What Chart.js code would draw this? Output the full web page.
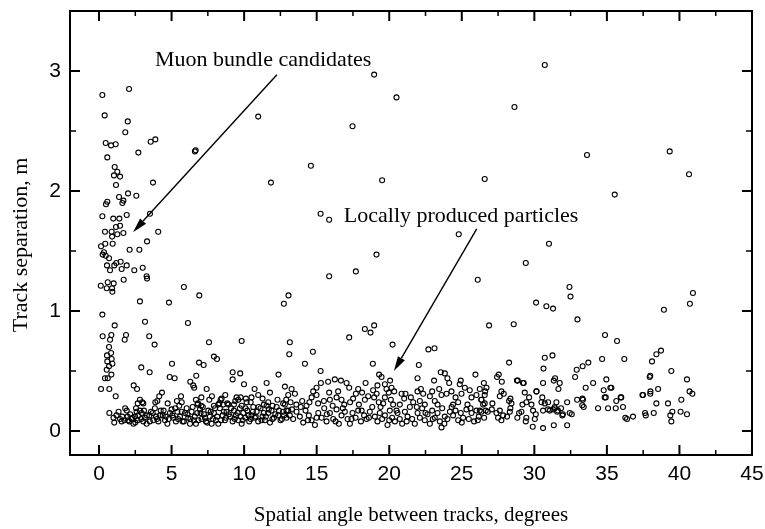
<!DOCTYPE html>
<html>
<head>
<meta charset="utf-8">
<script src="https://cdn.jsdelivr.net/npm/chart.js@4"></script>
<style>
  body { margin: 0; background: #fff; }
</style>
</head>
<body>
<canvas id="trackChart" width="765" height="529"></canvas>
<script>
// axis ticks
const xTicks = [0, 5, 10, 15, 20, 25, 30, 35, 40, 45];
const xMinorTicks = [2.5, 7.5, 12.5, 17.5, 22.5, 27.5, 32.5, 37.5, 42.5];
const yTicks = [0, 1, 2, 3];
const yMinorTicks = [0.5, 1.5, 2.5];

// [spatial angle (deg), track separation (m)]
const narrowAngle = [
  [0.23,2.80],[2.07,2.85],[0.39,2.63],[1.98,2.58],[1.81,2.49],[0.46,2.40],[0.83,2.38],[1.15,2.39],
  [2.71,2.32],[3.56,2.41],[3.88,2.43],[6.61,2.33],[6.66,2.34],[0.57,2.28],[1.08,2.20],[1.26,2.16],
  [1.03,2.13],[1.45,2.12],[3.72,2.07],[1.17,2.05],[1.38,1.95],[2.00,1.98],[2.57,1.96],[1.68,1.92],
  [1.61,1.90],[0.57,1.91],[0.48,1.89],[0.23,1.79],[1.91,1.80],[0.98,1.77],[1.40,1.77],[3.51,1.81],
  [1.17,1.70],[1.45,1.71],[0.41,1.66],[0.87,1.66],[1.26,1.64],[1.68,1.65],[0.90,1.62],[4.08,1.66],
  [3.31,1.58],[0.43,1.56],[0.94,1.56],[0.14,1.54],[2.11,1.51],[2.78,1.51],[0.34,1.49],[0.25,1.47],
  [0.46,1.46],[0.69,1.44],[1.49,1.41],[1.19,1.40],[1.91,1.38],[0.55,1.38],[1.05,1.38],[0.76,1.34],
  [1.56,1.35],[3.01,1.36],[2.43,1.34],[3.28,1.29],[3.31,1.27],[1.70,1.26],[0.12,1.21],[0.60,1.24],
  [1.01,1.23],[0.53,1.19],[0.90,1.19],[0.92,1.16],[5.85,1.20],[6.91,1.13],[2.82,1.08],[4.82,1.07],
  [0.23,0.97],[3.17,0.91],[6.13,0.90],[1.08,0.88],[0.25,0.79],[0.85,0.80],[1.86,0.80],[3.46,0.79],
  [0.76,0.76],[1.77,0.76],[3.83,0.72],[0.69,0.70],[0.83,0.65],[0.55,0.63],[0.87,0.60],
  [0.57,0.58],[0.92,0.56],[0.69,0.54],[0.53,0.51],[0.85,0.47],[0.41,0.44],[0.60,0.44],[0.14,0.35],
  [0.71,0.35],[1.15,0.29],[0.71,0.15],[1.00,0.11],[1.05,0.07]
];

const scattered = [
  [10.97,2.62],[18.96,2.97],[20.50,2.78],[17.47,2.54],[14.60,2.21],[19.51,2.09],[26.58,2.10],[30.72,3.05],
  [28.63,2.70],[33.63,2.30],[39.33,2.33],[40.66,2.14],[11.85,2.07],[15.27,1.81],[15.86,1.76],[24.79,1.64],
  [19.12,1.47],[15.86,1.29],[17.70,1.33],[26.10,1.26],[13.06,1.13],[12.74,1.06],[26.88,0.88],[13.15,0.74],
  [13.11,0.64],[17.24,0.78],[18.32,0.85],[18.71,0.82],[18.96,0.88],[20.23,0.72],[22.70,0.68],[23.12,0.69],
  [35.54,1.97],[31.01,1.56],[29.41,1.40],[32.42,1.20],[32.49,1.12],[30.12,1.07],[30.83,1.04],[31.29,1.02],
  [40.93,1.15],[40.72,1.06],[38.93,1.01],[28.58,0.89],[32.97,0.93],[34.87,0.80],[35.70,0.75],[38.73,0.67],
  [38.41,0.64],[38.11,0.58],[28.26,0.57],[30.72,0.61],[31.25,0.63],[30.63,0.52],[34.67,0.60],[36.20,0.60],
  [33.72,0.57],[33.33,0.54],[32.92,0.51],[39.44,0.50],[14.74,0.66],[14.19,0.56],[15.27,0.50],[18.87,0.56],
  [22.04,0.55],[19.30,0.47],[19.47,0.45],[2.91,0.53],[3.49,0.49],[5.03,0.56],[6.89,0.57],[7.21,0.55],
  [7.92,0.62],[8.13,0.60],[9.21,0.49],[9.73,0.48],[9.21,0.43],[4.87,0.45],[5.21,0.44],[6.70,0.46],
  [12.37,0.47],[23.55,0.49],[23.83,0.48],[25.94,0.47],[27.55,0.47],[27.43,0.45],[32.81,0.45],[37.95,0.45],
  [31.43,0.44],[7.58,0.74],[9.83,0.75]
];

const bandNear = [
  [6.29,0.41],[6.49,0.38],[6.56,0.36],[2.39,0.38],[2.62,0.35],[4.34,0.32],[4.15,0.29],[3.88,0.24],
  [4.02,0.25],[2.82,0.26],[2.98,0.24],[2.67,0.23],[2.55,0.19],[5.65,0.29],[5.37,0.25],[5.70,0.24],
  [7.42,0.35],[7.05,0.28],[6.82,0.23],[7.05,0.21],[7.78,0.29],[8.29,0.23],[8.45,0.27],[8.70,0.30],
  [8.38,0.26],[9.48,0.28],[9.76,0.28],[10.12,0.27],[10.45,0.24],[10.72,0.35],[9.39,0.25],[9.99,0.39],
  [4.73,0.23],[5.53,0.21],[6.68,0.26],[6.78,0.22],[7.60,0.26],[7.92,0.21],[8.22,0.22],[8.56,0.22],
  [8.84,0.23],[9.60,0.26],[10.17,0.24],[10.51,0.28],[9.30,0.22],[9.83,0.21],[10.97,0.30],[11.27,0.27],
  [11.55,0.40],[11.78,0.32],[11.36,0.22],[11.66,0.24],[11.96,0.21],[12.30,0.26],[12.69,0.23],[3.05,0.23],
  [1.45,0.10],[1.56,0.08],[1.75,0.09],[1.91,0.17],[1.97,0.12],[2.09,0.08],[2.25,0.10],[2.37,0.06],
  [2.48,0.12],[2.59,0.16],[2.66,0.09],[2.82,0.17],[2.94,0.15],[3.05,0.08],[3.17,0.11],[3.28,0.06],
  [3.47,0.13],[3.58,0.16],[3.74,0.09],[3.93,0.12],[4.09,0.08],[4.25,0.17],[4.39,0.13],[4.55,0.09],
  [4.71,0.06],[4.89,0.15],[5.00,0.18],[5.12,0.11],[5.30,0.08],[5.40,0.16],[5.58,0.12],[5.76,0.08],
  [5.92,0.15],[6.04,0.19],[6.15,0.11],[6.27,0.06],[6.38,0.16],[6.54,0.09],[6.68,0.06],[6.77,0.15],
  [6.96,0.18],[7.07,0.10],[7.23,0.14],[7.37,0.08],[7.53,0.17],[7.64,0.12],[7.76,0.06],[7.92,0.15],
  [8.06,0.09],[8.22,0.06],[8.33,0.19],[8.52,0.13],[8.68,0.09],[8.79,0.16],[8.91,0.22],[9.02,0.12],
  [9.21,0.08],[9.30,0.17],[9.44,0.13],[9.60,0.09],[9.71,0.19],[9.83,0.06],[9.94,0.15],[10.08,0.11],
  [10.22,0.17],[10.35,0.08],[10.51,0.13],[10.63,0.20],[10.74,0.11],[10.86,0.16],[10.97,0.08],[11.13,0.19],
  [11.27,0.12],[11.43,0.09],[11.55,0.21],[11.66,0.15],[11.78,0.07],[11.89,0.17],[12.05,0.11],[12.24,0.20],
  [12.35,0.13],[12.51,0.09],[12.69,0.16],[12.81,0.22],[12.92,0.11],[13.04,0.17],
  [1.20,0.13],[1.35,0.16],[1.60,0.12],[1.80,0.19],[2.00,0.09],[2.15,0.14],[2.30,0.11],[2.50,0.07],
  [2.70,0.13],[2.90,0.10],[3.10,0.17],[3.30,0.13],[3.50,0.08],[3.70,0.15],[3.85,0.19],[4.00,0.10],
  [4.20,0.13],[4.45,0.17],[4.60,0.12],[4.80,0.10],[5.05,0.13],[5.25,0.19],[5.45,0.10],[5.70,0.16],
  [5.85,0.08],[6.10,0.14],[6.30,0.10],[6.45,0.20],[6.60,0.12],[6.85,0.09],[7.00,0.15],[7.15,0.20],
  [7.30,0.11],[7.45,0.07],[7.70,0.16],[7.85,0.10],[8.00,0.19],[8.15,0.12],[8.40,0.09],[8.60,0.16],
  [8.75,0.11],[8.95,0.14],[9.10,0.19],[9.35,0.10],[9.55,0.15],[9.75,0.12],[9.90,0.09],[10.10,0.19],
  [10.30,0.13],[10.45,0.10],[10.60,0.16],[10.80,0.12],[11.00,0.20],[11.20,0.09],[11.35,0.15],[11.50,0.12],
  [11.70,0.18],[11.95,0.10],[12.15,0.14],[12.40,0.17],[12.60,0.10],[12.75,0.13]
];

const bandMid = [
  [20.06,0.42],[18.37,0.40],[21.95,0.44],[23.09,0.42],[24.01,0.44],[24.13,0.40],[24.93,0.42],[24.86,0.39],
  [15.29,0.40],[15.79,0.41],[16.25,0.43],[16.67,0.42],[17.06,0.40],[17.24,0.36],[12.81,0.37],[13.27,0.35],
  [13.50,0.31],[13.04,0.30],[14.99,0.36],[14.76,0.33],[14.65,0.28],[14.99,0.30],[15.86,0.32],[16.48,0.33],
  [16.37,0.28],[15.91,0.26],[16.71,0.26],[17.86,0.35],[17.70,0.31],[18.13,0.32],[17.51,0.27],[18.32,0.26],
  [17.91,0.22],[18.55,0.29],[18.89,0.34],[19.19,0.38],[19.13,0.31],[18.96,0.28],[19.28,0.24],[19.70,0.39],
  [19.81,0.35],[19.97,0.32],[20.16,0.36],[20.34,0.33],[19.70,0.28],[20.11,0.26],[20.27,0.22],[19.58,0.23],
  [20.85,0.31],[21.12,0.31],[21.03,0.27],[20.73,0.22],[21.49,0.28],[21.65,0.24],[21.95,0.33],[22.18,0.35],
  [22.34,0.31],[22.11,0.25],[22.45,0.22],[22.80,0.29],[22.96,0.33],[23.14,0.25],[23.44,0.35],[23.60,0.30],
  [23.33,0.22],[23.95,0.31],[24.29,0.33],[24.57,0.28],[24.75,0.24],[24.98,0.31],[25.21,0.36],[25.55,0.34],
  [25.67,0.28],[26.01,0.30],[26.24,0.35],[26.35,0.26],[26.58,0.30],[25.39,0.22],[24.40,0.22],[23.60,0.03],
  [12.90,0.26],[13.20,0.24],[13.60,0.22],[14.00,0.25],[14.30,0.21],[14.50,0.24],[15.10,0.23],[15.50,0.25],
  [16.10,0.21],[16.90,0.22],[17.30,0.24],
  [12.92,0.17],[13.15,0.13],[13.38,0.10],[13.61,0.16],[13.84,0.12],[14.07,0.07],[14.23,0.17],[14.46,0.13],
  [14.65,0.09],[14.88,0.05],[15.11,0.15],[15.34,0.11],[15.52,0.19],[15.68,0.08],[15.91,0.15],[16.14,0.10],
  [16.37,0.18],[16.53,0.06],[16.71,0.13],[16.94,0.16],[17.13,0.10],[17.29,0.06],[17.47,0.15],[17.68,0.11],
  [17.86,0.17],[18.05,0.08],[18.27,0.13],[18.44,0.10],[18.66,0.16],[18.83,0.20],[19.01,0.12],[19.19,0.08],
  [19.35,0.15],[19.51,0.10],[19.70,0.13],[19.88,0.05],[20.04,0.17],[20.20,0.11],[20.39,0.08],[20.57,0.15],
  [20.73,0.10],[20.89,0.06],[21.08,0.16],[21.26,0.12],[21.42,0.20],[21.58,0.10],[21.76,0.06],[21.95,0.15],
  [22.11,0.11],[22.27,0.19],[22.45,0.09],[22.64,0.14],[22.80,0.06],[22.96,0.17],[23.14,0.11],[23.33,0.15],
  [23.49,0.08],[23.65,0.19],[23.83,0.12],[24.01,0.10],[24.18,0.16],[24.40,0.13],[24.57,0.17],[24.75,0.09],
  [24.93,0.15],[25.09,0.11],[25.32,0.18],[25.48,0.10],[25.67,0.15],[25.85,0.08],[26.01,0.17],[26.17,0.12],
  [26.35,0.16],[26.54,0.11],
  [13.30,0.18],[13.90,0.20],[14.40,0.09],[15.00,0.11],[15.70,0.14],[16.30,0.08],[16.80,0.19],[17.40,0.10],
  [18.10,0.17],[18.60,0.11],[19.40,0.20],[20.00,0.09],[20.50,0.17],[21.20,0.08],[21.90,0.20],[22.50,0.15],
  [23.00,0.10],[23.80,0.06],[24.30,0.20],[25.00,0.07],[25.60,0.19],[26.10,0.09]
];

const bandFar = [
  [40.52,0.43],[40.70,0.33],[40.89,0.31],[34.96,0.43],[34.78,0.34],[35.24,0.36],[34.92,0.28],[34.05,0.40],
  [33.54,0.36],[31.75,0.40],[31.34,0.42],[31.66,0.35],[30.60,0.40],[30.14,0.33],[29.22,0.40],[28.86,0.42],
  [27.76,0.41],[26.52,0.40],[26.70,0.36],[26.61,0.33],[27.73,0.33],[27.89,0.31],[27.62,0.29],[28.35,0.27],
  [28.26,0.25],[28.42,0.23],[29.34,0.32],[29.64,0.28],[29.45,0.24],[29.18,0.22],[29.80,0.22],[29.11,0.16],
  [30.49,0.24],[30.72,0.23],[30.95,0.24],[30.60,0.17],[31.06,0.17],[31.52,0.24],[31.41,0.19],[31.84,0.19],
  [31.57,0.16],[31.93,0.13],[32.26,0.24],[32.44,0.15],[32.58,0.14],[32.95,0.26],[33.31,0.27],[33.40,0.20],
  [34.39,0.19],[35.08,0.19],[35.61,0.19],[36.11,0.20],[35.65,0.25],[35.99,0.28],[36.27,0.11],[36.39,0.10],
  [36.80,0.12],[37.45,0.30],[38.00,0.33],[38.53,0.35],[38.41,0.23],[39.21,0.23],[37.63,0.15],[37.68,0.13],
  [38.23,0.15],[39.37,0.13],[39.51,0.16],[39.44,0.08],[40.13,0.26],[40.08,0.16],[40.52,0.14],[29.89,0.035],
  [30.60,0.024],[31.34,0.048],[32.26,0.048],[30.03,0.10],[29.41,0.08],[29.45,0.11],[28.83,0.11],[28.95,0.15],
  [26.47,0.22],[26.65,0.17],[26.79,0.16],[27.07,0.18],[27.11,0.23],[27.39,0.15],[27.50,0.11],[27.62,0.17],
  [27.73,0.09],[27.85,0.13],[28.12,0.12],[28.31,0.16],[28.35,0.19],[26.35,0.26],[26.58,0.23],[26.24,0.17],
  [29.91,0.17],[30.10,0.14],[30.55,0.28],[30.94,0.18],[31.29,0.18],[31.40,0.20],[31.63,0.17],[31.97,0.14],
  [30.15,0.33],[33.30,0.215],[33.35,0.26],[35.31,0.36],[34.85,0.28],[35.95,0.28],[37.99,0.31],[37.99,0.46],
  [37.49,0.30],[28.80,0.42],[29.27,0.40]
];

const notes = [
  { text: 'Muon bundle candidates', at: [3.86, 3.044], from: [12.26, 2.969], to: [2.34, 1.657] },
  { text: 'Locally produced particles', at: [16.87, 1.745], from: [26.03, 1.684], to: [20.32, 0.499] }
];

function arrow(ctx, x1, y1, x2, y2) {
  const ang = Math.atan2(y2 - y1, x2 - x1);
  const len = 15, half = 4;
  const bx = x2 - len * Math.cos(ang), by = y2 - len * Math.sin(ang);
  ctx.beginPath();
  ctx.moveTo(x1, y1);
  ctx.lineTo(bx, by);
  ctx.stroke();
  ctx.beginPath();
  ctx.moveTo(x2, y2);
  ctx.lineTo(bx + half * Math.sin(ang), by - half * Math.cos(ang));
  ctx.lineTo(bx - half * Math.sin(ang), by + half * Math.cos(ang));
  ctx.closePath();
  ctx.fill();
}

const frame = {
  id: 'frame',
  afterDraw(chart) {
    const { ctx, chartArea: a, scales: { x, y } } = chart;
    ctx.save();
    ctx.strokeStyle = '#000';
    ctx.fillStyle = '#000';
    ctx.lineWidth = 2;
    ctx.strokeRect(a.left, a.top, a.right - a.left, a.bottom - a.top);

    // inward ticks on all four sides
    const tick = (vals, len, horiz) => {
      vals.forEach(v => {
        ctx.beginPath();
        if (horiz) {
          const px = x.getPixelForValue(v);
          ctx.moveTo(px, a.bottom); ctx.lineTo(px, a.bottom - len);
          ctx.moveTo(px, a.top); ctx.lineTo(px, a.top + len);
        } else {
          const py = y.getPixelForValue(v);
          ctx.moveTo(a.left, py); ctx.lineTo(a.left + len, py);
          ctx.moveTo(a.right, py); ctx.lineTo(a.right - len, py);
        }
        ctx.stroke();
      });
    };
    tick(xTicks, 10, true);
    tick(yTicks, 10, false);
    ctx.lineWidth = 1.5;
    tick(xMinorTicks, 5, true);
    tick(yMinorTicks, 6, false);

    // y title
    ctx.font = '22px "Liberation Serif", "Times New Roman", serif';
    ctx.textAlign = 'center';
    ctx.textBaseline = 'alphabetic';
    ctx.save();
    ctx.translate(27, 245);
    ctx.rotate(-Math.PI / 2);
    ctx.fillText('Track separation, m', 0, 0);
    ctx.restore();

    // annotations
    ctx.textAlign = 'left';
    ctx.lineWidth = 1.4;
    notes.forEach(n => {
      ctx.fillText(n.text, x.getPixelForValue(n.at[0]), y.getPixelForValue(n.at[1]));
      arrow(ctx, x.getPixelForValue(n.from[0]), y.getPixelForValue(n.from[1]),
        x.getPixelForValue(n.to[0]), y.getPixelForValue(n.to[1]));
    });
    ctx.restore();
  }
};

const tickFont = { family: '"Liberation Sans", Arial, sans-serif', size: 21 };

new Chart(document.getElementById('trackChart'), {
  type: 'scatter',
  data: {
    datasets: [narrowAngle, scattered, bandNear, bandMid, bandFar].map(pts => ({
      data: pts.map(([x, y]) => ({ x, y })),
      pointRadius: 2.5,
      borderWidth: 1.1,
      borderColor: '#000',
      backgroundColor: 'rgba(0,0,0,0)'
    }))
  },
  options: {
    responsive: false,
    animation: false,
    devicePixelRatio: 1,
    layout: { padding: { top: 11, right: 13, left: 0, bottom: 0 } },
    plugins: { legend: { display: false }, tooltip: { enabled: false } },
    scales: {
      x: {
        type: 'linear',
        min: -2,
        max: 45,
        afterBuildTicks: s => { s.ticks = xTicks.map(v => ({ value: v })); },
        afterFit: s => { s.height = 74; s.paddingLeft = 0; s.paddingRight = 0; },
        grid: { display: false, drawTicks: false },
        border: { display: false },
        ticks: { padding: 7, color: '#000', font: tickFont, maxRotation: 0 },
        title: {
          display: true,
          text: 'Spatial angle between tracks, degrees',
          color: '#000',
          font: { family: '"Liberation Serif", "Times New Roman", serif', size: 21 },
          padding: { top: 0, bottom: 1 }
        }
      },
      y: {
        type: 'linear',
        min: -0.2,
        max: 3.5,
        afterBuildTicks: s => { s.ticks = yTicks.map(v => ({ value: v })); },
        afterFit: s => { s.width = 70; s.paddingTop = 0; s.paddingBottom = 0; },
        grid: { display: false, drawTicks: false },
        border: { display: false },
        ticks: { padding: 9, color: '#000', font: tickFont }
      }
    }
  },
  plugins: [frame]
});
</script>
</body>
</html>
